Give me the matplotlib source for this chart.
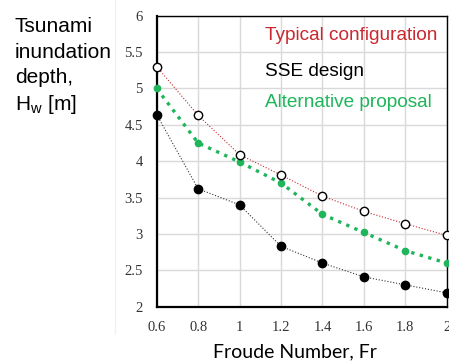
import matplotlib
matplotlib.use("Agg")
import matplotlib.pyplot as plt
from matplotlib.lines import Line2D

# Froude number vs inundation depth for three designs
froude = [0.6, 0.8, 1.0, 1.2, 1.4, 1.6, 1.8, 2.0]
typical = [5.30, 4.63, 4.09, 3.81, 3.52, 3.31, 3.14, 2.98]
sse = [4.64, 3.62, 3.40, 2.83, 2.60, 2.41, 2.30, 2.19]
alternative = [5.00, 4.25, 3.99, 3.70, 3.27, 3.02, 2.77, 2.60]

series_labels = ["Typical configuration", "SSE design", "Alternative proposal"]
RED = "#c8282e"
GREEN = "#1fb55a"

fig = plt.figure(figsize=(4.49, 3.62), dpi=100)
ax = fig.add_axes([0.3490, 0.1528, 0.9949 - 0.3490, 0.9566 - 0.1528])

ax.plot(froude, typical, ls=":", lw=0.8, color=RED, marker="o", ms=6,
        mfc="white", mec="black", mew=1.0, clip_on=False, zorder=4)
ax.plot(froude, sse, ls=":", lw=0.8, color="#333333", marker="o", ms=6,
        mfc="black", mec="black", clip_on=False, zorder=3)
ax.plot(froude, alternative, ls=":", lw=2.4, color=GREEN, marker="o", ms=4.5,
        mfc=GREEN, mec=GREEN, clip_on=False, zorder=3)

ax.set_xlim(0.6, 2.0)
ax.set_ylim(2, 6)
ax.set_xticks(froude)
ax.set_xticklabels(["0.6", "0.8", "1", "1.2", "1.4", "1.6", "1.8", "2"])
ax.set_yticks([2, 2.5, 3, 3.5, 4, 4.5, 5, 5.5, 6])
ax.set_yticklabels(["2", "2.5", "3", "3.5", "4", "4.5", "5", "5.5", "6"])
for lab in ax.get_xticklabels() + ax.get_yticklabels():
    lab.set_family("Liberation Serif")
    lab.set_fontsize(10.5)
    lab.set_color("#333333")
ax.tick_params(length=0, pad=10)
ax.grid(True, color="#d9d9d9", lw=1.0)
ax.set_axisbelow(True)
for side in ["left", "bottom"]:
    ax.spines[side].set_linewidth(1.6)
for side in ["top", "right"]:
    ax.spines[side].set_linewidth(1.0)

# in-plot legend as coloured text
for txt, col, y in zip(series_labels, [RED, "black", GREEN], [0.9165, 0.794, 0.687]):
    ax.text(0.373, y, txt, transform=ax.transAxes, color=col,
            family="Liberation Sans", fontsize=13.7, va="baseline", ha="left")

# y label, stacked at top-left
ylab_lines = ["Tsunami", "inundation", "depth,", r"H$_\mathregular{w}$ [m]"]
for line, y in zip(ylab_lines, [0.9124, 0.8398, 0.7699, 0.6961]):
    fig.text(0.0334, y, line, family="Liberation Sans", fontsize=15,
             va="baseline", ha="left")

fig.text(0.657, 0.027, "Froude Number, Fr", family="Lato", fontsize=14,
         ha="center", va="center")

# faint edge of the pasted chart panel
fig.add_artist(Line2D([0.256, 0.256], [0.08, 1.0], transform=fig.transFigure,
                      color="#f0f0f0", lw=1.0))

fig.savefig("out.png", dpi=100)
